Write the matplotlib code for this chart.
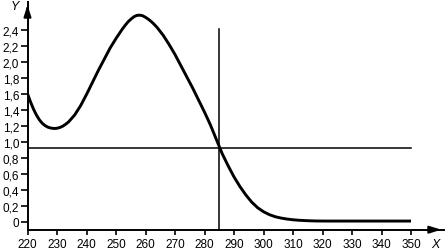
import matplotlib
matplotlib.use("Agg")
import matplotlib.pyplot as plt

plt.rcParams['font.family'] = ['Liberation Sans', 'DejaVu Sans']

# Curve data
x_vals = [220, 221, 222, 223, 224, 225, 226, 227, 228, 229, 230, 231, 232, 233, 234, 236, 238,
          240, 242, 244, 246, 248, 250, 252, 253, 254, 255, 256, 257, 258, 259, 260, 261, 262,
          263, 264, 266, 268, 270, 272, 274, 276, 278, 280, 282, 284, 286, 288, 290, 292, 294,
          296, 298, 300, 302, 304, 306, 308, 310, 312, 314, 316, 318, 322, 330, 340, 350]
y_vals = [1.60, 1.50, 1.41, 1.335, 1.275, 1.23, 1.20, 1.18, 1.17, 1.165, 1.168, 1.178, 1.195, 1.22,
          1.25, 1.335, 1.45, 1.59, 1.74, 1.89, 2.03, 2.17, 2.29, 2.40, 2.45, 2.495, 2.53, 2.56,
          2.578, 2.582, 2.575, 2.555, 2.53, 2.50, 2.465, 2.425, 2.33, 2.215, 2.09, 1.95, 1.81,
          1.67, 1.52, 1.37, 1.21, 1.03, 0.85, 0.70, 0.56, 0.44, 0.335, 0.245, 0.175, 0.125,
          0.088, 0.062, 0.045, 0.033, 0.024, 0.018, 0.014, 0.011, 0.009, 0.008, 0.008, 0.008, 0.008]

x_ticks = list(range(220, 351, 10))
y_ticks = [0, 0.2, 0.4, 0.6, 0.8, 1.0, 1.2, 1.4, 1.6, 1.8, 2.0, 2.2, 2.4]
y_tick_labels = ['0', '0,2', '0,4', '0,6', '0,8', '1,0', '1,2', '1,4', '1,6', '1,8', '2,0', '2,2', '2,4']

h_level = 0.925
v_pos = 285
v_top = 2.41

W, H = 446, 251
fig = plt.figure(figsize=(W / 100, H / 100), dpi=100)
left_px, right_px, bottom_px, top_px = 27.5, 444, 230.7, 3
ax = fig.add_axes([left_px / W, (H - bottom_px) / H,
                   (right_px - left_px) / W, (bottom_px - top_px) / H])
ax.set_xlim(220, 220 + (right_px - left_px) / 2.95)
ax.set_ylim(-0.1, -0.1 + (bottom_px - top_px) / 80)

for s in ['top', 'right']:
    ax.spines[s].set_visible(False)
for s in ['left', 'bottom']:
    ax.spines[s].set_linewidth(1.4)

ax.plot(x_vals, y_vals, color='black', lw=2.1, solid_capstyle='butt', solid_joinstyle='round')
ax.plot([220, 350], [h_level, h_level], color='black', lw=1.1)
ax.plot([v_pos, v_pos], [-0.1, v_top], color='black', lw=1.1)

ax.set_xticks(x_ticks)
ax.set_xticklabels([str(v) for v in x_ticks])
ax.set_yticks(y_ticks)
ax.set_yticklabels(y_tick_labels)
ax.tick_params(axis='x', direction='out', length=3.8, width=1.2, pad=2, labelsize=8.5)
ax.tick_params(axis='y', direction='out', length=5, width=1.2, pad=1, labelsize=8.5)

# axis arrows
xl = ax.get_xlim(); yl = ax.get_ylim()
ax.annotate('', xy=(xl[1], yl[0]), xytext=(xl[1] - 6, yl[0]),
            arrowprops=dict(arrowstyle='-|>,head_length=0.7,head_width=0.22', color='black', lw=1.4),
            annotation_clip=False)
ax.annotate('', xy=(xl[0], yl[1]), xytext=(xl[0], yl[1] - 0.15),
            arrowprops=dict(arrowstyle='-|>,head_length=0.7,head_width=0.22', color='black', lw=1.4),
            annotation_clip=False)

fig.text(435 / W, 1 - 245 / H, 'X', ha='center', va='center', fontsize=9, style='italic')
fig.text(15 / W, 1 - 7 / H, 'Y', ha='center', va='center', fontsize=9, style='italic')

fig.savefig('out.png', dpi=100)
